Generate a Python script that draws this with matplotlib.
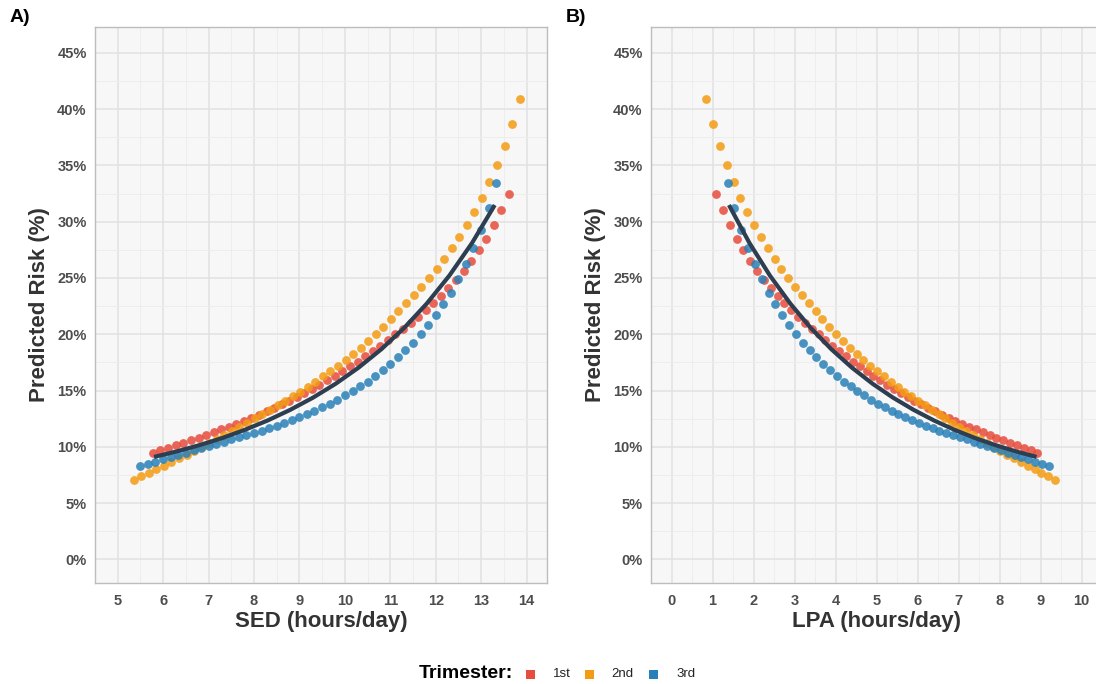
import numpy as np
import matplotlib.pyplot as plt
from matplotlib.patches import Rectangle
from matplotlib.ticker import FuncFormatter, MultipleLocator

plt.rcParams['font.family'] = ['Liberation Sans', 'DejaVu Sans']

# --- data ---
# panel A: SED (hours/day)
sed_1st = [5.78, 5.94, 6.11, 6.28, 6.44, 6.61, 6.78, 6.94, 7.11, 7.28, 7.44, 7.61, 7.78, 7.94, 8.11, 8.28,
           8.44, 8.61, 8.78, 8.94, 9.11, 9.28, 9.44, 9.61, 9.78, 9.94, 10.11, 10.28, 10.44, 10.61, 10.78, 10.95,
           11.11, 11.28, 11.45, 11.61, 11.78, 11.95, 12.11, 12.28, 12.45, 12.62, 12.78, 12.95, 13.11, 13.28, 13.44, 13.61]
sed_2nd = [5.35, 5.52, 5.68, 5.85, 6.02, 6.18, 6.35, 6.52, 6.68, 6.85, 7.02, 7.18, 7.35, 7.52, 7.68, 7.85,
           8.02, 8.18, 8.35, 8.52, 8.68, 8.85, 9.02, 9.18, 9.35, 9.52, 9.68, 9.85, 10.02, 10.18, 10.35, 10.52,
           10.68, 10.85, 11.02, 11.18, 11.35, 11.52, 11.68, 11.85, 12.02, 12.18, 12.35, 12.52, 12.68, 12.85,
           13.02, 13.18, 13.35, 13.52, 13.68, 13.85]
sed_3rd = [5.50, 5.67, 5.83, 6.00, 6.17, 6.33, 6.50, 6.67, 6.83, 7.00, 7.17, 7.33, 7.50, 7.67, 7.83, 8.00,
           8.17, 8.33, 8.50, 8.67, 8.83, 9.00, 9.17, 9.33, 9.50, 9.67, 9.83, 10.00, 10.17, 10.33, 10.50, 10.67,
           10.83, 11.00, 11.17, 11.33, 11.50, 11.67, 11.83, 12.00, 12.17, 12.33, 12.50, 12.67, 12.83, 13.00,
           13.17, 13.33]

# panel B: LPA (hours/day), same order as the SED lists
lpa_1st = [8.92, 8.76, 8.59, 8.42, 8.26, 8.09, 7.92, 7.76, 7.59, 7.42, 7.26, 7.09, 6.92, 6.76, 6.59, 6.42,
           6.26, 6.09, 5.92, 5.76, 5.59, 5.42, 5.26, 5.09, 4.92, 4.76, 4.59, 4.42, 4.26, 4.09, 3.92, 3.75,
           3.59, 3.42, 3.25, 3.09, 2.92, 2.75, 2.59, 2.42, 2.25, 2.08, 1.92, 1.75, 1.59, 1.42, 1.26, 1.09]
lpa_2nd = [9.35, 9.18, 9.02, 8.85, 8.68, 8.52, 8.35, 8.18, 8.02, 7.85, 7.68, 7.52, 7.35, 7.18, 7.02, 6.85,
           6.68, 6.52, 6.35, 6.18, 6.02, 5.85, 5.68, 5.52, 5.35, 5.18, 5.02, 4.85, 4.68, 4.52, 4.35, 4.18,
           4.02, 3.85, 3.68, 3.52, 3.35, 3.18, 3.02, 2.85, 2.68, 2.52, 2.35, 2.18, 2.02, 1.85,
           1.68, 1.52, 1.35, 1.18, 1.02, 0.85]
lpa_3rd = [9.20, 9.03, 8.87, 8.70, 8.53, 8.37, 8.20, 8.03, 7.87, 7.70, 7.53, 7.37, 7.20, 7.03, 6.87, 6.70,
           6.53, 6.37, 6.20, 6.03, 5.87, 5.70, 5.53, 5.37, 5.20, 5.03, 4.87, 4.70, 4.53, 4.37, 4.20, 4.03,
           3.87, 3.70, 3.53, 3.37, 3.20, 3.03, 2.87, 2.70, 2.53, 2.37, 2.20, 2.03, 1.87,
           1.70, 1.53, 1.37]

# predicted risk (%) for each trimester
risk_1st = [9.46, 9.69, 9.90, 10.13, 10.34, 10.58, 10.82, 11.05, 11.29, 11.55, 11.79, 12.06, 12.30, 12.56, 12.85, 13.15,
            13.46, 13.78, 14.11, 14.45, 14.80, 15.16, 15.53, 15.91, 16.31, 16.72, 17.14, 17.58, 18.03, 18.50, 18.98, 19.48,
            19.98, 20.48, 21.00, 21.55, 22.16, 22.80, 23.42, 24.10, 24.85, 25.65, 26.50, 27.48, 28.50, 29.67, 31.00, 32.50]
risk_2nd = [7.09, 7.39, 7.69, 8.00, 8.32, 8.64, 8.97, 9.31, 9.65, 9.99, 10.35, 10.70, 11.06, 11.43, 11.79, 12.16,
            12.54, 12.91, 13.29, 13.68, 14.08, 14.49, 14.91, 15.35, 15.79, 16.25, 16.73, 17.22, 17.73, 18.26, 18.81, 19.39,
            19.99, 20.65, 21.40, 22.10, 22.75, 23.47, 24.20, 24.97, 25.80, 26.70, 27.64, 28.62, 29.70, 30.85,
            32.10, 33.50, 35.00, 36.70, 38.65, 40.90]
risk_3rd = [8.27, 8.48, 8.69, 8.88, 9.08, 9.28, 9.48, 9.68, 9.88, 10.08, 10.27, 10.46, 10.65, 10.84, 11.03, 11.22,
            11.42, 11.64, 11.88, 12.12, 12.40, 12.68, 12.94, 13.20, 13.50, 13.83, 14.18, 14.57, 14.95, 15.37, 15.80, 16.30,
            16.80, 17.40, 18.00, 18.60, 19.26, 20.00, 20.80, 21.70, 22.67, 23.70, 24.90, 26.20, 27.66, 29.30,
            31.20, 33.40]

# overall fitted curve
sed_fit = [5.8, 6.3, 6.8, 7.3, 7.8, 8.3, 8.8, 9.3, 9.8, 10.3, 10.8, 11.3, 11.8, 12.3, 12.8, 13.3]
lpa_fit = [8.9, 8.4, 7.9, 7.4, 6.9, 6.4, 5.9, 5.4, 4.9, 4.4, 3.9, 3.4, 2.9, 2.4, 1.9, 1.4]
risk_fit = [9.10, 9.59, 10.15, 10.78, 11.51, 12.34, 13.29, 14.37, 15.61, 17.03, 18.66, 20.54, 22.71, 25.21, 28.11, 31.48]

labels = ['1st', '2nd', '3rd']
colors = ['#E74C3C', '#F39C12', '#2980B9']
line_color = '#2C3E50'


def draw_panel(ax, xs, fit_x, xlim, xticks, xlabel):
    ax.set_facecolor('#F7F7F7')
    for x, y, c in zip(xs, [risk_1st, risk_2nd, risk_3rd], colors):
        ax.scatter(x, y, s=40, color=c, alpha=0.85, linewidths=0, zorder=3)
    ax.plot(fit_x, risk_fit, color=line_color, lw=3.0, solid_capstyle='butt', zorder=4)

    ax.set_xlim(xlim)
    ax.set_ylim(-2.1, 47.3)
    ax.set_xticks(xticks)
    ax.xaxis.set_minor_locator(MultipleLocator(0.5))
    ax.yaxis.set_minor_locator(MultipleLocator(2.5))
    ax.set_yticks(np.arange(0, 46, 5))
    ax.yaxis.set_major_formatter(FuncFormatter(lambda v, p: '%d%%' % v))
    ax.grid(which='major', color='#E2E2E2', lw=1.1)
    ax.grid(which='minor', color='#EDEDED', lw=0.7)
    ax.set_axisbelow(True)
    ax.tick_params(which='both', length=0)
    ax.tick_params(axis='x', pad=8, labelsize=10.5, labelcolor='#4D4D4D')
    ax.tick_params(axis='y', pad=6, labelsize=10.5, labelcolor='#4D4D4D')
    for lab in ax.get_xticklabels() + ax.get_yticklabels():
        lab.set_fontweight('bold')
    for s in ax.spines.values():
        s.set_color('#BDBDBD')
        s.set_linewidth(1.0)
    ax.set_xlabel(xlabel, fontsize=16, fontweight='bold', color='#333333', labelpad=2)
    ax.set_ylabel('Predicted Risk (%)', fontsize=16, fontweight='bold', color='#333333', labelpad=5)


W, H = 1096, 684
fig = plt.figure(figsize=(W / 100, H / 100), dpi=100)

axA = fig.add_axes([95 / W, 1 - 583 / H, 452 / W, 556 / H])
draw_panel(axA, [sed_1st, sed_2nd, sed_3rd], sed_fit, (4.5, 14.45), range(5, 15), 'SED (hours/day)')

axB = fig.add_axes([651 / W, 1 - 583 / H, 452 / W, 556 / H])
draw_panel(axB, [lpa_1st, lpa_2nd, lpa_3rd], lpa_fit, (-0.5, 10.52), range(0, 11), 'LPA (hours/day)')

fig.text(10 / W, 1 - 18 / H, 'A)', fontsize=14, fontweight='bold', va='center')
fig.text(566 / W, 1 - 18 / H, 'B)', fontsize=14, fontweight='bold', va='center')

# legend at the bottom
cy = 674
fig.text(513 / W, 1 - cy / H, 'Trimester:', fontsize=14, fontweight='bold', ha='right', va='center')
for c, lab, sq_x, tx_x in zip(colors, labels, [526, 585, 649], [553, 611, 676]):
    fig.patches.append(Rectangle((sq_x / W, 1 - (cy + 4.5) / H), 9 / W, 9 / H, transform=fig.transFigure,
                                 facecolor=c, edgecolor='none', figure=fig))
    fig.text(tx_x / W, 1 - cy / H, lab, fontsize=9.5, ha='left', va='center', color='#222222')

fig.savefig('out.png', dpi=100)
